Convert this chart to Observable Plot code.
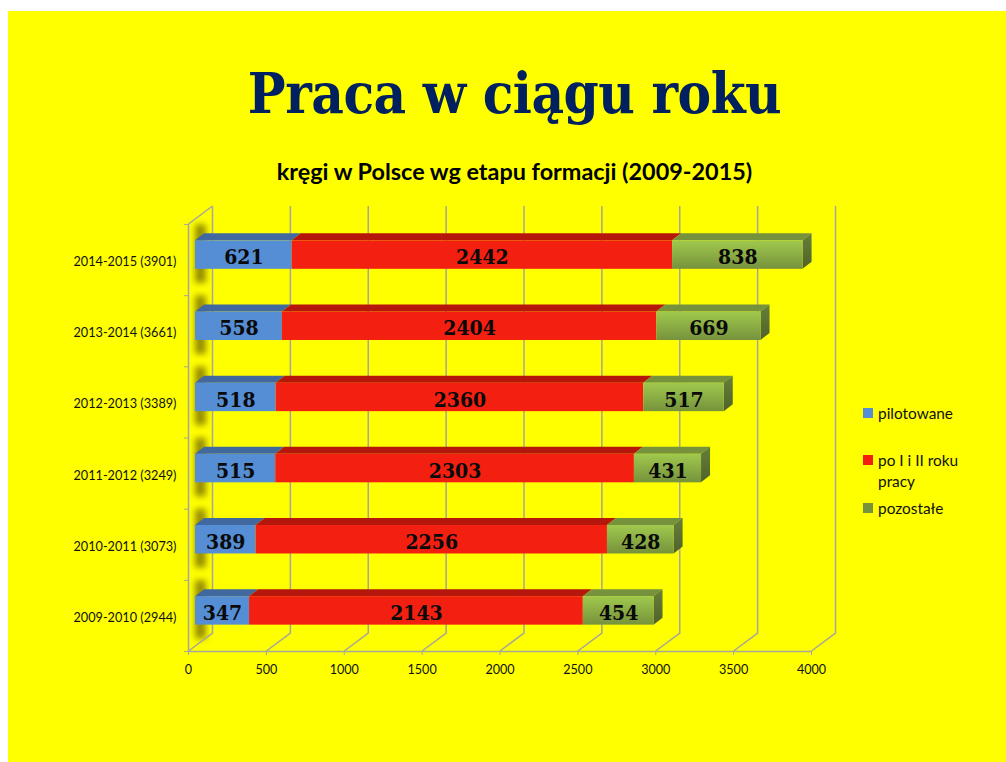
<!DOCTYPE html>
<html lang="pl">
<head>
<meta charset="utf-8">
<script src="https://cdn.jsdelivr.net/npm/d3@7"></script>
<script src="https://cdn.jsdelivr.net/npm/@observablehq/plot@0.6"></script>
<style>
html,body{margin:0;padding:0;background:#fff;}
#card{position:absolute;left:8px;top:11px;width:998px;height:751px;background:#ff0;overflow:hidden;}
#title{position:absolute;left:0;width:1013px;top:44px;text-align:center;margin:0;font:bold 56px "DejaVu Serif",serif;font-stretch:condensed;letter-spacing:-.5px;color:#002060;line-height:76px;white-space:nowrap;}
#sub{position:absolute;left:0;width:1013px;top:145px;text-align:center;margin:0;font:bold 23.4px Lato,sans-serif;color:#000;line-height:30px;}
#chart{position:absolute;left:0;top:179px;}
#chart svg{background:transparent;display:block;}
.lg{position:absolute;font:15.4px Lato,sans-serif;color:#111;line-height:21px;left:870px;width:96px;}
.lg i{position:absolute;left:-15px;top:5px;width:10px;height:10px;display:block;}
</style>
</head>
<body>
<div id="card">
  <h1 id="title">Praca w ciągu roku</h1>
  <h2 id="sub">kręgi w Polsce wg etapu formacji (2009-2015)</h2>
  <div id="chart"></div>
</div>
<script>
const years = ["2014-2015 (3901)","2013-2014 (3661)","2012-2013 (3389)","2011-2012 (3249)","2010-2011 (3073)","2009-2010 (2944)"];
const pilotowane = [621,558,518,515,389,347];
const poIiII = [2442,2404,2360,2303,2256,2143];
const pozostale = [838,669,517,431,428,454];
const seriesNames = ["pilotowane","po I i II roku pracy","pozostałe"];
const frontColors = ["#558ed5","#f32012","url(#greenFront)"];
const topColors = ["#41699f","#b5170c","#76923c"];
const legendColors = ["#558ed5","#f32012","#76923c"];
const legendTops = [392,439,487];
const xTicks = [0,500,1000,1500,2000,2500,3000,3500,4000];

const rows = years.flatMap((year,i)=>{
  const vals=[pilotowane[i],poIiII[i],pozostale[i]];
  let c=0;
  return vals.map((v,s)=>{const r={year,series:seriesNames[s],s,value:v,x1:c,x2:c+v,last:s===2};c+=v;return r;});
});

const NS="http://www.w3.org/2000/svg";
const face=(kind)=>(index,scales,values,dims,ctx,next)=>{
  const g=next(index,scales,values,dims,ctx);
  g.querySelectorAll("rect").forEach(r=>{
    const x=+r.getAttribute("x"),y=+r.getAttribute("y"),w=+r.getAttribute("width"),h=+r.getAttribute("height");
    const p=document.createElementNS(NS,"polygon");
    const dx=9,dy=7;
    const pts=kind==="top"?[[x,y],[x+w,y],[x+w+dx,y-dy],[x+dx,y-dy]]
      :[[x+w,y],[x+w+dx,y-dy],[x+w+dx,y+h-dy],[x+w,y+h]];
    p.setAttribute("points",pts.map(q=>q.join(",")).join(" "));
    const f=r.getAttribute("fill");
    if(f) p.setAttribute("fill",f);
    r.replaceWith(p);
  });
  return g;
};
const wall=(mode)=>(index,scales,values,dims,ctx,next)=>{
  const g=next(index,scales,values,dims,ctx);
  g.querySelectorAll("line").forEach(l=>{
    const x=+l.getAttribute("x1"),a=+l.getAttribute("y1"),b=+l.getAttribute("y2");
    const top=Math.min(a,b),bot=Math.max(a,b);
    const p=document.createElementNS(NS,"polyline");
    const pts=mode==="grid"?[[x,bot],[x+24,bot-18],[x+24,top-18]]:[[x,top],[x+24,top-18]];
    p.setAttribute("points",pts.map(q=>q.join(",")).join(" "));
    p.setAttribute("fill","none");
    l.replaceWith(p);
  });
  return g;
};
const css=(text)=>(index,scales,values,dims,ctx,next)=>{
  const g=next(index,scales,values,dims,ctx);
  g.setAttribute("style",(g.getAttribute("style")||"")+";"+text);
  return g;
};

const gray="#a6a69a";
const chart=Plot.plot({
  width:998,height:572,
  marginLeft:180,marginRight:195,marginTop:34,marginBottom:111,
  style:{background:"transparent",fontFamily:"Lato, sans-serif",fontSize:"11px",color:"#111",overflow:"visible"},
  x:{domain:[0,4000],range:[180,803]},
  y:{domain:years,range:[34,461],paddingInner:0.6,paddingOuter:0.3,round:false},
  color:{domain:seriesNames,range:frontColors},
  marks:[
    Plot.barX(years,{y:d=>d,x1:45,x2:115,dy:-6,insetTop:-15,insetBottom:-15,fill:"#7a6f00",fillOpacity:.8,render:css("filter:blur(3px)")}),
    Plot.ruleX(xTicks,{x:d=>d,stroke:gray,strokeWidth:1.5,render:wall("grid")}),
    Plot.ruleX([0],{x:d=>d,stroke:gray,strokeWidth:1.5,render:wall("topedge")}),
    Plot.ruleX([0],{x:d=>d,stroke:gray,strokeWidth:1.5}),
    Plot.ruleY(years.slice(-1),{y:d=>d,x1:0,x2:4000,dy:35.6,stroke:gray,strokeWidth:1.5}),
    Plot.ruleY(years,{y:d=>d,x1:-26,x2:0,dy:-35.6,stroke:gray}),
    Plot.ruleY(years.slice(-1),{y:d=>d,x1:-26,x2:0,dy:35.6,stroke:gray}),
    Plot.barX(rows,{x1:"x1",x2:"x2",y:"year",dx:7,dy:-5,fill:d=>topColors[d.s],render:face("top")}),
    Plot.barX(rows.filter(d=>d.last),{x1:"x1",x2:"x2",y:"year",dx:7,dy:-5,fill:"url(#greenSide)",render:face("side")}),
    Plot.barX(rows,{x1:"x1",x2:"x2",y:"year",dx:7,dy:-5,fill:"series"}),
    Plot.text(rows,{x:d=>(d.x1+d.x2)/2,y:"year",text:d=>String(d.value),dx:7,dy:-2.5,fontSize:21,fontWeight:700,fontFamily:"DejaVu Serif, serif",fill:"#0a0a0a",render:css("font-stretch:condensed")}),
    Plot.axisX({ticks:xTicks,tickSize:4,tickPadding:10,stroke:gray,fill:"#111",label:null,anchor:"bottom",fontSize:12.6,tickFormat:d=>String(d)}),
    Plot.axisY({tickSize:0,tickPadding:12,label:null,anchor:"left",fill:"#111",dy:2,fontSize:12.7})
  ]
});
const defs=document.createElementNS(NS,"defs");
defs.innerHTML=`<linearGradient id="greenFront" x1="0" y1="0" x2="0" y2="1"><stop offset="0" stop-color="#a0c94d"/><stop offset="1" stop-color="#76923c"/></linearGradient>
<linearGradient id="greenSide" x1="0" y1="0" x2="0" y2="1"><stop offset="0" stop-color="#66803a"/><stop offset="1" stop-color="#4f6228"/></linearGradient>`;
chart.prepend(defs);
document.getElementById("chart").append(chart);

const card=document.getElementById("card");
seriesNames.forEach((n,i)=>{
  const d=document.createElement("div");
  d.className="lg";
  d.style.top=legendTops[i]+"px";
  d.innerHTML=`<i style="background:${legendColors[i]}"></i>`;
  d.append(n);
  card.append(d);
});
</script>
</body>
</html>
